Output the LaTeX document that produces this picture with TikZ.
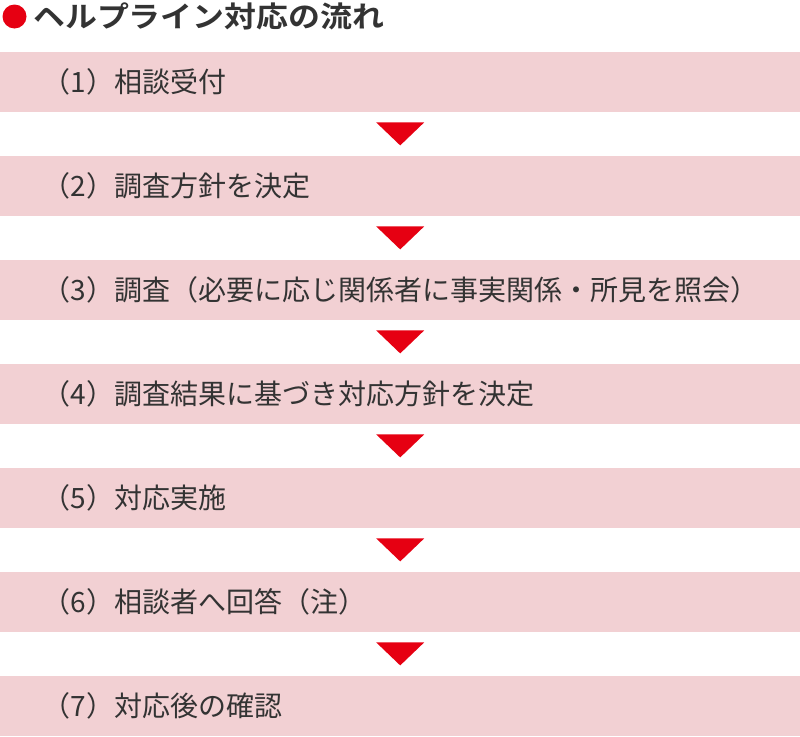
\documentclass[tikz,border=0pt]{standalone}
\usepackage{fontspec}
\setmainfont{Noto Sans CJK JP}
\newfontfamily\jpbold{Noto Sans CJK JP Bold}
\usetikzlibrary{calc}
\definecolor{bandpink}{HTML}{F2D0D3}
\definecolor{markred}{HTML}{E60012}
\definecolor{inkgrey}{HTML}{333333}
\tikzset{
  band/.style={fill=bandpink, draw=none, minimum width=800pt, minimum height=60pt, inner sep=0pt, anchor=north west},
  bandtext/.style={anchor=west, inner sep=0pt, text=inkgrey, font=\fontsize{28pt}{33pt}\selectfont},
  downarrow/.style={fill=markred, draw=none}
}
\begin{document}
\begin{tikzpicture}[x=1pt,y=-1pt]
\useasboundingbox (0,0) rectangle (800,736);
\fill[white] (0,0) rectangle (800,736);
% title
\fill[markred] (14.5,16.5) circle (12pt);
\node[anchor=west, inner sep=0pt, text=inkgrey, font=\jpbold\fontsize{29pt}{34pt}\selectfont] (title) at (33,16.5) {\scalebox{1.1}[1]{ヘルプライン対応の流れ}};
% bands
\foreach \i/\t in {1/（1）相談受付,
                   2/（2）調査方針を決定,
                   3/（3）調査（必要に応じ関係者に事実関係・所見を照会）,
                   4/（4）調査結果に基づき対応方針を決定,
                   5/（5）対応実施,
                   6/（6）相談者へ回答（注）,
                   7/（7）対応後の確認} {
  \node[band] (s\i) at (0,{52+104*(\i-1)}) {};
  \node[bandtext] (t\i) at ($(s\i.west)+(42.5,0)$) {\t};
}
% arrows
\foreach \i in {1,...,6} {
  \fill[downarrow] ($(s\i.south)+(-24,10)$) -- ($(s\i.south)+(24,10)$) -- ($(s\i.south)+(0,33)$) -- cycle;
}
\end{tikzpicture}
\end{document}
